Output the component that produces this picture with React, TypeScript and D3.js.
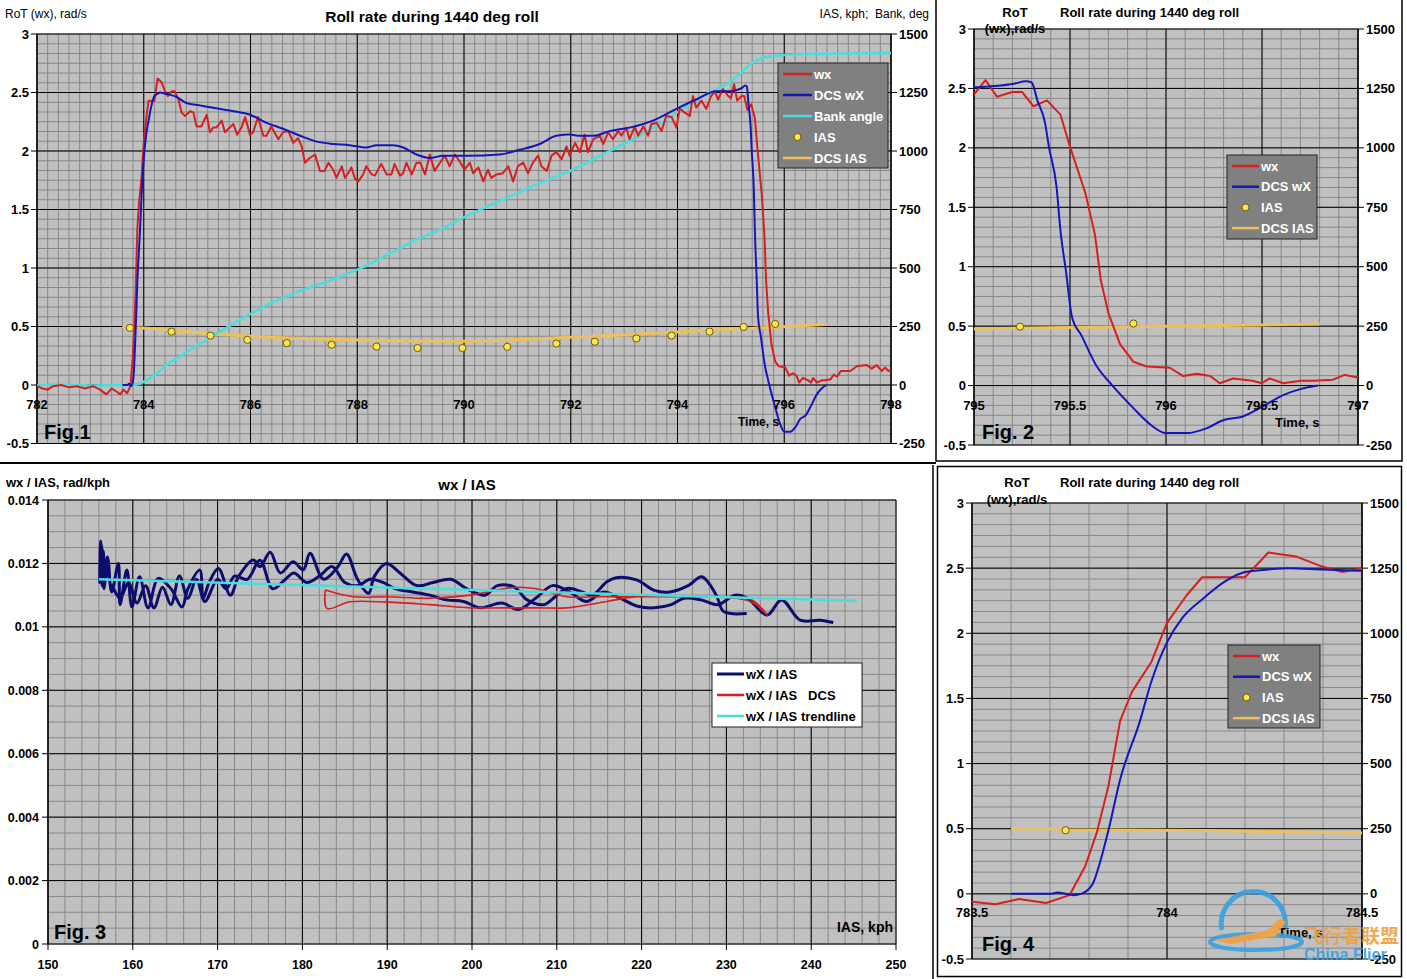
import React from 'react';
import * as d3 from 'd3';

type Pt = [number, number];

const FONT = '"Liberation Sans", Arial, sans-serif';
const RED = '#d61f1f';
const BLUE = '#1616b8';
const CYAN = '#48dede';
const GOLD = '#ecc258';
const NAVY = '#0d0d6e';
const DOT = '#ffe44a';

// measured roll rate wx, [time s, rad/s]
const wx: Pt[] = [
  [782.0, -0.01], [782.1, -0.03], [782.2, -0.04], [782.3, -0.01], [782.45, 0.0], [782.6, -0.02],
  [782.75, -0.01], [782.9, -0.03], [783.05, -0.01], [783.18, -0.04], [783.3, -0.08], [783.4, -0.03],
  [783.5, -0.06], [783.56, -0.08], [783.62, -0.04], [783.69, -0.07], [783.75, -0.01], [783.79, 0.21],
  [783.82, 0.47], [783.85, 0.83], [783.88, 1.33], [783.91, 1.55], [783.96, 1.78], [784.0, 2.08],
  [784.05, 2.29], [784.09, 2.43], [784.2, 2.43], [784.26, 2.62], [784.33, 2.59], [784.4, 2.51],
  [784.45, 2.47], [784.52, 2.51], [784.58, 2.51], [784.65, 2.44], [784.71, 2.33], [784.77, 2.3],
  [784.87, 2.34], [784.93, 2.33], [784.99, 2.21], [785.08, 2.21], [785.18, 2.31], [785.24, 2.16],
  [785.3, 2.2], [785.36, 2.2], [785.46, 2.26], [785.52, 2.16], [785.61, 2.2], [785.68, 2.23],
  [785.75, 2.14], [785.83, 2.2], [785.9, 2.29], [785.99, 2.14], [786.05, 2.16], [786.14, 2.29],
  [786.24, 2.13], [786.3, 2.13], [786.39, 2.21], [786.52, 2.1], [786.61, 2.16], [786.71, 2.17],
  [786.8, 2.07], [786.89, 2.11], [786.96, 2.04], [787.02, 1.9], [787.11, 1.94], [787.21, 1.97],
  [787.3, 1.83], [787.39, 1.83], [787.46, 1.9], [787.55, 1.84], [787.61, 1.77], [787.71, 1.87],
  [787.77, 1.77], [787.83, 1.81], [787.89, 1.86], [787.96, 1.76], [788.02, 1.74], [788.11, 1.8],
  [788.17, 1.87], [788.27, 1.8], [788.33, 1.79], [788.45, 1.89], [788.55, 1.8], [788.64, 1.8],
  [788.7, 1.89], [788.8, 1.79], [788.86, 1.81], [788.92, 1.9], [789.02, 1.8], [789.11, 1.9],
  [789.18, 1.9], [789.27, 1.8], [789.36, 1.97], [789.45, 1.83], [789.55, 1.9], [789.64, 1.96],
  [789.73, 1.87], [789.83, 1.97], [789.92, 1.91], [790.01, 1.84], [790.11, 1.9], [790.17, 1.81],
  [790.27, 1.86], [790.36, 1.74], [790.45, 1.84], [790.51, 1.77], [790.61, 1.8], [790.73, 1.81],
  [790.83, 1.87], [790.92, 1.74], [791.01, 1.87], [791.11, 1.9], [791.2, 1.81], [791.29, 1.9],
  [791.39, 1.96], [791.45, 1.87], [791.55, 1.83], [791.64, 1.96], [791.73, 1.99], [791.83, 1.93],
  [791.92, 2.04], [791.98, 1.96], [792.08, 2.07], [792.17, 1.99], [792.26, 2.14], [792.32, 1.99],
  [792.42, 2.1], [792.54, 2.13], [792.61, 2.06], [792.7, 2.16], [792.79, 2.1], [792.89, 2.17],
  [792.95, 2.13], [793.04, 2.2], [793.1, 2.1], [793.2, 2.21], [793.26, 2.13], [793.36, 2.21],
  [793.45, 2.13], [793.51, 2.23], [793.61, 2.24], [793.7, 2.17], [793.79, 2.3], [793.89, 2.29],
  [793.98, 2.2], [794.04, 2.36], [794.13, 2.33], [794.23, 2.3], [794.29, 2.47], [794.35, 2.37],
  [794.45, 2.43], [794.54, 2.36], [794.63, 2.47], [794.7, 2.51], [794.76, 2.44], [794.85, 2.53],
  [794.95, 2.47], [795.0, 2.45], [795.06, 2.57], [795.12, 2.43], [795.2, 2.47], [795.25, 2.47],
  [795.31, 2.35], [795.38, 2.4], [795.45, 2.28], [795.5, 2.01], [795.58, 1.62], [795.63, 1.27],
  [795.66, 0.89], [795.7, 0.61], [795.76, 0.35], [795.83, 0.2], [795.9, 0.16], [796.02, 0.15],
  [796.09, 0.08], [796.16, 0.1], [796.23, 0.08], [796.28, 0.02], [796.35, 0.06], [796.45, 0.04],
  [796.5, 0.02], [796.54, 0.06], [796.61, 0.02], [796.7, 0.04], [796.77, 0.04], [796.87, 0.05],
  [796.93, 0.09], [796.99, 0.07], [797.06, 0.12], [797.24, 0.12], [797.36, 0.16], [797.55, 0.17],
  [797.64, 0.14], [797.73, 0.17], [797.83, 0.12], [797.89, 0.15], [797.95, 0.12], [798.0, 0.13],
];

// DCS roll rate, [time s, rad/s]
const dcsWx: Pt[] = [
  [783.6, 0], [783.7, 0.0], [783.72, 0.01], [783.74, 0.0], [783.76, -0.01], [783.78, 0.0],
  [783.81, 0.08], [783.83, 0.26], [783.85, 0.49], [783.88, 0.88], [783.93, 1.32], [783.96, 1.63],
  [784.0, 1.93], [784.04, 2.12], [784.09, 2.26], [784.15, 2.4], [784.2, 2.47], [784.26, 2.49],
  [784.31, 2.5], [784.4, 2.49], [784.5, 2.48], [784.62, 2.46], [784.8, 2.41], [785.05, 2.39],
  [785.3, 2.37], [785.68, 2.34], [785.99, 2.31], [786.3, 2.24], [786.61, 2.19], [786.93, 2.13],
  [787.24, 2.08], [787.55, 2.06], [787.86, 2.05], [788.17, 2.03], [788.36, 2.05], [788.67, 2.05],
  [788.86, 2.03], [789.11, 1.97], [789.36, 1.94], [789.61, 1.96], [790.05, 1.96], [790.67, 1.97],
  [791.04, 2.01], [791.42, 2.06], [791.73, 2.13], [791.98, 2.14], [792.17, 2.13], [792.42, 2.13],
  [792.73, 2.17], [793.1, 2.2], [793.54, 2.26], [793.98, 2.36], [794.35, 2.44], [794.73, 2.51],
  [795.0, 2.51], [795.1, 2.52], [795.21, 2.54], [795.27, 2.56], [795.3, 2.55], [795.33, 2.4],
  [795.37, 2.21], [795.39, 2.01], [795.43, 1.67], [795.45, 1.31], [795.48, 0.95], [795.51, 0.58],
  [795.56, 0.42], [795.64, 0.16], [795.71, 0.02], [795.83, -0.19], [795.92, -0.33], [796.0, -0.4],
  [796.11, -0.4], [796.21, -0.36], [796.3, -0.29], [796.4, -0.26], [796.51, -0.17], [796.61, -0.08],
  [796.7, -0.03], [796.79, 0.0],
];

// bank angle, [time s, deg]
const bankAngle: Pt[] = [
  [782.0, 0], [782.5, 2], [783.0, -2], [783.5, 0], [783.8, 0], [783.93, 5], [784.2, 40],
  [784.43, 87], [784.8, 140], [785.3, 211], [785.8, 278], [786.3, 342], [786.9, 400], [787.55, 451],
  [788.17, 509], [788.6, 560], [789.05, 615], [789.6, 669], [790.11, 729], [790.7, 790],
  [791.36, 857], [791.98, 914], [792.6, 986], [793.23, 1057], [793.85, 1143], [794.48, 1236],
  [794.98, 1293], [795.41, 1379], [795.6, 1400], [795.98, 1410], [796.35, 1414], [798.04, 1419],
];

// DCS IAS, [time s, kph]
const dcsIas: Pt[] = [
  [783.6, 250], [783.72, 250], [783.75, 246], [784.1, 243], [784.5, 234], [785.3, 218],
  [786.3, 204], [787.55, 194], [788.5, 190], [790.05, 187], [791.0, 193], [792.0, 204],
  [793.0, 214], [793.85, 225], [794.6, 234], [795.0, 238], [795.4, 243], [795.9, 248],
  [796.5, 255], [796.8, 259],
];

// measured IAS samples, [time s, kph]
const iasDots: Pt[] = [
  [783.74, 244], [784.52, 228], [785.25, 211], [785.94, 193], [786.68, 179], [787.52, 172],
  [788.36, 164], [789.13, 158], [789.97, 158], [790.81, 163], [791.73, 177], [792.45, 185],
  [793.23, 199], [793.89, 211], [794.6, 228], [795.24, 248], [795.83, 261],
];

// Fig.3: wx / IAS against IAS, [kph, rad/kph]
const ratioMeasured: Pt[] = [
  [232.4, 0.01042], [230.5, 0.01042], [229.6, 0.0105], [228.8, 0.011], [227.1, 0.01158],
  [225.5, 0.0113], [223.3, 0.0111], [221.5, 0.01115], [219.4, 0.01148], [217.0, 0.01155],
  [215.9, 0.01142], [214.2, 0.011], [213.0, 0.0111], [211.2, 0.01121], [209.8, 0.01095],
  [208.5, 0.0107], [206.5, 0.01085], [205.0, 0.01125], [203.0, 0.0113], [201.5, 0.011],
  [199.4, 0.0112], [197.5, 0.0115], [195.4, 0.0114], [193.5, 0.0113], [191.5, 0.0117],
  [189.9, 0.012], [188.5, 0.0116], [187.8, 0.01106], [186.5, 0.0115], [185.2, 0.0123],
  [184.2, 0.0119], [182.5, 0.0115], [180.9, 0.01232], [180.1, 0.0118], [178.9, 0.01205],
  [177.4, 0.0117], [176.2, 0.01235], [175.0, 0.0119], [174.2, 0.01211], [172.5, 0.0116],
  [171.5, 0.011], [170.1, 0.01184], [169.0, 0.0114], [168.3, 0.0109], [167.9, 0.01179],
  [166.5, 0.0112], [165.8, 0.01063], [164.5, 0.0112], [163.0, 0.01153], [161.8, 0.0106],
  [160.8, 0.01158], [159.9, 0.01063], [159.3, 0.01179], [158.5, 0.0107], [158.3, 0.012],
  [157.5, 0.0111], [157.0, 0.0122], [156.6, 0.0112], [156.3, 0.0126], [156.1, 0.0114],
  [156.2, 0.0127], [156.4, 0.0113], [156.5, 0.0124], [156.8, 0.0115], [157.1, 0.0121],
  [157.4, 0.0113], [157.5, 0.0113], [158.5, 0.0109], [159.5, 0.0114], [160.5, 0.01075],
  [161.5, 0.0113], [162.5, 0.0106], [163.5, 0.01125], [164.5, 0.0107], [165.5, 0.0116],
  [166.5, 0.0109], [167.5, 0.0115], [168.5, 0.0108], [170.0, 0.0115], [171.0, 0.0112],
  [172.0, 0.0116], [173.5, 0.0115], [175.0, 0.0121], [176.5, 0.0112], [178.0, 0.0115],
  [179.0, 0.0117], [180.5, 0.0114], [182.0, 0.0116], [183.5, 0.0119], [185.0, 0.0114],
  [186.5, 0.0113], [188.0, 0.0115], [189.5, 0.0114], [191.0, 0.0112], [193.0, 0.0111],
  [195.0, 0.011], [197.0, 0.01085], [199.0, 0.0108], [201.0, 0.0106], [203.5, 0.01075],
  [205.5, 0.01055], [207.5, 0.0109], [209.5, 0.0113], [211.5, 0.0111], [213.5, 0.0108],
  [215.5, 0.0111], [217.5, 0.0109], [219.5, 0.01065], [221.5, 0.0106], [223.5, 0.0107],
  [225.0, 0.0109], [227.0, 0.01085], [229.0, 0.0107], [231.0, 0.011], [232.5, 0.0109],
  [234.8, 0.01037], [236.5, 0.01085], [238.7, 0.01021], [241.0, 0.01021], [242.6, 0.01014],
];

const ratioDcs: Pt[] = [
  [182.7, 0.01116], [186.0, 0.01095], [190.0, 0.01095], [195.0, 0.0109], [199.8, 0.011],
  [203.7, 0.0112], [205.6, 0.01125], [207.6, 0.0112], [211.2, 0.01095], [215.0, 0.01095],
  [219.4, 0.01095], [223.3, 0.01095], [227.1, 0.01095], [231.2, 0.0109], [233.2, 0.01075],
  [234.8, 0.01037], [233.0, 0.01085], [229.6, 0.01095], [225.0, 0.01095], [219.4, 0.01095],
  [215.9, 0.0108], [211.2, 0.0106], [207.6, 0.0106], [203.7, 0.0106], [199.8, 0.0106],
  [195.0, 0.0107], [190.0, 0.01078], [185.6, 0.01079], [182.9, 0.01058], [182.7, 0.01116],
];

const ratioTrend: Pt[] = [[156.0, 0.0115], [245.4, 0.01082]];

const leftTicks = [-0.5, 0, 0.5, 1, 1.5, 2, 2.5, 3];
const rightTicks = [-250, 0, 250, 500, 750, 1000, 1250, 1500];
const ratioTicks = [0, 0.002, 0.004, 0.006, 0.008, 0.01, 0.012, 0.014];
const iasTicks = [150, 160, 170, 180, 190, 200, 210, 220, 230, 240, 250];

type Box = { left: number; right: number; top: number; bottom: number };

const steps = (d0: number, d1: number, step: number) =>
  d3.range(Math.round((d1 - d0) / step) + 1).map((i) => d0 + i * step);

const fmt = (v: number) => String(+v.toFixed(4));

type LegendRow = { label: string; color: string; kind: 'line' | 'dot' };

const rollLegend: LegendRow[] = [
  { label: 'wx', color: RED, kind: 'line' },
  { label: 'DCS wX', color: BLUE, kind: 'line' },
  { label: 'Bank angle', color: CYAN, kind: 'line' },
  { label: 'IAS', color: DOT, kind: 'dot' },
  { label: 'DCS IAS', color: GOLD, kind: 'line' },
];

function Legend({
  x, y, w, h, rows, rowGap, fill, text, sample,
}: {
  x: number; y: number; w: number; h: number; rows: LegendRow[]; rowGap: number;
  fill: string; text: string; sample: number;
}) {
  return (
    <g>
      <rect x={x} y={y} width={w} height={h} fill={fill} stroke="#222" strokeWidth={1} />
      {rows.map((r, i) => {
        const cy = y + 11 + i * rowGap;
        return (
          <g key={r.label}>
            {r.kind === 'line' ? (
              <line x1={x + 5} x2={x + 5 + sample} y1={cy} y2={cy} stroke={r.color}
                strokeWidth={r.color === NAVY ? 3 : 2.5} />
            ) : (
              <circle cx={x + 5 + sample / 2} cy={cy} r={3.5} fill={DOT} stroke="#6b5a10" strokeWidth={1} />
            )}
            <text x={x + 7 + sample} y={cy + 4.5} fontSize={13} fontWeight="bold" fill={text}
              style={{ whiteSpace: 'pre' }}>
              {r.label}
            </text>
          </g>
        );
      })}
    </g>
  );
}

function RollPanel({
  id, box, xDomain, xMajor, xMinor, bank, labelY, lw,
}: {
  id: string; box: Box; xDomain: [number, number]; xMajor: number; xMinor: number;
  bank: boolean; labelY: number; lw: number;
}) {
  const x = d3.scaleLinear().domain(xDomain).range([box.left, box.right]);
  const yL = d3.scaleLinear().domain([-0.5, 3]).range([box.bottom, box.top]);
  const yR = d3.scaleLinear().domain([-250, 1500]).range([box.bottom, box.top]);
  const lineL = d3.line<Pt>().x((d) => x(d[0])).y((d) => yL(d[1]));
  const smoothL = d3.line<Pt>().x((d) => x(d[0])).y((d) => yL(d[1])).curve(d3.curveMonotoneX);
  const lineR = d3.line<Pt>().x((d) => x(d[0])).y((d) => yR(d[1]));
  const xMin = steps(xDomain[0], xDomain[1], xMinor);
  const xMaj = steps(xDomain[0], xDomain[1], xMajor);
  const yMin = steps(-0.5, 3, 0.5 / 6);
  const dots = iasDots.filter((d) => d[0] >= xDomain[0] && d[0] <= xDomain[1]);
  return (
    <g>
      <defs>
        <clipPath id={id}>
          <rect x={box.left} y={box.top} width={box.right - box.left} height={box.bottom - box.top} />
        </clipPath>
      </defs>
      <rect x={box.left} y={box.top} width={box.right - box.left} height={box.bottom - box.top} fill="#c0c0c0" />
      {xMin.map((v) => (
        <line key={'xm' + v} x1={x(v)} x2={x(v)} y1={box.top} y2={box.bottom} stroke="#888" strokeWidth={1} />
      ))}
      {yMin.map((v) => (
        <line key={'ym' + v} x1={box.left} x2={box.right} y1={yL(v)} y2={yL(v)} stroke="#888" strokeWidth={1} />
      ))}
      {xMaj.map((v) => (
        <line key={'xM' + v} x1={x(v)} x2={x(v)} y1={box.top} y2={box.bottom} stroke="#000" strokeWidth={1} />
      ))}
      {leftTicks.map((v) => (
        <line key={'yM' + v} x1={box.left - 6} x2={box.right + 6} y1={yL(v)} y2={yL(v)} stroke="#000" strokeWidth={1} />
      ))}
      <line x1={box.left} x2={box.left} y1={box.top} y2={box.bottom} stroke="#000" strokeWidth={1.2} />
      <line x1={box.right} x2={box.right} y1={box.top} y2={box.bottom} stroke="#000" strokeWidth={1.2} />
      <g clipPath={`url(#${id})`} fill="none" strokeLinejoin="round">
        <path d={lineR(dcsIas) ?? ''} stroke={GOLD} strokeWidth={lw + 1} />
        {bank && <path d={lineR(bankAngle) ?? ''} stroke={CYAN} strokeWidth={lw + 0.5} />}
        <path d={lineL(wx) ?? ''} stroke={RED} strokeWidth={lw} />
        <path d={smoothL(dcsWx) ?? ''} stroke={BLUE} strokeWidth={lw} />
      </g>
      {dots.map((d) => (
        <circle key={'d' + d[0]} cx={x(d[0])} cy={yR(d[1])} r={3.6} fill={DOT} stroke="#6b5a10" strokeWidth={1} />
      ))}
      <g fontSize={13} fontWeight="bold" fill="#000">
        {leftTicks.map((v) => (
          <text key={'lt' + v} x={box.left - 8} y={yL(v) + 4.5} textAnchor="end">{fmt(v)}</text>
        ))}
        {rightTicks.map((v) => (
          <text key={'rt' + v} x={box.right + 8} y={yR(v) + 4.5}>{fmt(v)}</text>
        ))}
        {xMaj.map((v) => (
          <text key={'xt' + v} x={x(v)} y={labelY} textAnchor="middle">{fmt(v)}</text>
        ))}
      </g>
    </g>
  );
}

function RatioPanel() {
  const box: Box = { left: 48, right: 896, top: 500, bottom: 944 };
  const x = d3.scaleLinear().domain([150, 250]).range([box.left, box.right]);
  const y = d3.scaleLinear().domain([0, 0.014]).range([box.bottom, box.top]);
  const line = d3.line<Pt>().x((d) => x(d[0])).y((d) => y(d[1]));
  const curvy = d3.line<Pt>().x((d) => x(d[0])).y((d) => y(d[1])).curve(d3.curveCatmullRom.alpha(0.5));
  const xMin = steps(150, 250, 2);
  const yMin = steps(0, 0.014, 0.0005);
  return (
    <g>
      <rect x={box.left} y={box.top} width={box.right - box.left} height={box.bottom - box.top} fill="#c0c0c0" />
      {xMin.map((v) => (
        <line key={'xm' + v} x1={x(v)} x2={x(v)} y1={box.top} y2={box.bottom} stroke="#888" strokeWidth={1} />
      ))}
      {yMin.map((v) => (
        <line key={'ym' + v} x1={box.left} x2={box.right} y1={y(v)} y2={y(v)} stroke="#888" strokeWidth={1} />
      ))}
      {iasTicks.map((v) => (
        <line key={'xM' + v} x1={x(v)} x2={x(v)} y1={box.top} y2={box.bottom + 6} stroke="#000" strokeWidth={1} />
      ))}
      {ratioTicks.map((v) => (
        <line key={'yM' + v} x1={box.left - 6} x2={box.right} y1={y(v)} y2={y(v)} stroke="#000" strokeWidth={1} />
      ))}
      <line x1={box.left} x2={box.left} y1={box.top} y2={box.bottom} stroke="#000" strokeWidth={1.2} />
      <g fill="none" strokeLinejoin="round">
        <path d={curvy(ratioMeasured) ?? ''} stroke={NAVY} strokeWidth={3} />
        <path d={curvy(ratioDcs) ?? ''} stroke={RED} strokeWidth={1.6} />
        <path d={line(ratioTrend) ?? ''} stroke={CYAN} strokeWidth={2.5} />
      </g>
      <g fontSize={12.5} fontWeight="bold" fill="#000">
        {ratioTicks.map((v) => (
          <text key={'lt' + v} x={box.left - 9} y={y(v) + 4.5} textAnchor="end">{fmt(v)}</text>
        ))}
        {iasTicks.map((v) => (
          <text key={'xt' + v} x={x(v)} y={969} textAnchor="middle">{v}</text>
        ))}
      </g>
    </g>
  );
}

export default function App() {
  const small = rollLegend.filter((r) => r.label !== 'Bank angle');
  return (
    <div style={{ position: 'absolute', left: 0, top: 0 }}>
      <svg width={1407} height={979} style={{ display: 'block', background: '#fff', fontFamily: FONT }}>
        {/* Fig. 1 */}
        <RollPanel id="c1" box={{ left: 37, right: 891, top: 34, bottom: 443.5 }} xDomain={[782, 798]}
          xMajor={2} xMinor={0.2} bank labelY={409} lw={2} />
        <text x={5} y={18} fontSize={12}>RoT (wx), rad/s</text>
        <text x={432} y={22} fontSize={15.5} fontWeight="bold" textAnchor="middle">Roll rate during 1440 deg roll</text>
        <text x={929} y={18} fontSize={12} textAnchor="end" style={{ whiteSpace: 'pre' }}>IAS, kph;  Bank, deg</text>
        <text x={738} y={426} fontSize={12} fontWeight="bold">Time, s</text>
        <text x={44} y={439} fontSize={20} fontWeight="bold">Fig.1</text>
        <Legend x={778} y={63} w={110} h={105} rows={rollLegend} rowGap={21} fill="#808080" text="#fff" sample={29} />

        {/* Fig. 2 */}
        <RollPanel id="c2" box={{ left: 974, right: 1358, top: 29, bottom: 445 }} xDomain={[795, 797]}
          xMajor={0.5} xMinor={0.1} bank={false} labelY={410} lw={2} />
        <text x={1015} y={17} fontSize={13} fontWeight="bold" textAnchor="middle">RoT</text>
        <text x={1015} y={33} fontSize={13} fontWeight="bold" textAnchor="middle">(wx),rad/s</text>
        <text x={1060} y={17} fontSize={13} fontWeight="bold">Roll rate during 1440 deg roll</text>
        <text x={1275} y={427} fontSize={13} fontWeight="bold">Time, s</text>
        <text x={982} y={439} fontSize={20} fontWeight="bold">Fig. 2</text>
        <Legend x={1227} y={155} w={90} h={84} rows={small} rowGap={20.7} fill="#808080" text="#fff" sample={27} />

        {/* Fig. 3 */}
        <RatioPanel />
        <text x={6} y={487} fontSize={13} fontWeight="bold">wx / IAS, rad/kph</text>
        <text x={467} y={490} fontSize={15} fontWeight="bold" textAnchor="middle">wx / IAS</text>
        <text x={893} y={932} fontSize={14} fontWeight="bold" textAnchor="end">IAS, kph</text>
        <text x={54} y={939} fontSize={20} fontWeight="bold">Fig. 3</text>
        <Legend x={712} y={663} w={150} h={64} rows={[
          { label: 'wX / IAS', color: NAVY, kind: 'line' },
          { label: 'wX / IAS   DCS', color: RED, kind: 'line' },
          { label: 'wX / IAS trendline', color: CYAN, kind: 'line' },
        ]} rowGap={21} fill="#fff" text="#000" sample={27} />

        {/* Fig. 4 */}
        <RollPanel id="c4" box={{ left: 972, right: 1362, top: 503, bottom: 959 }} xDomain={[783.5, 784.5]}
          xMajor={0.5} xMinor={0.1} bank={false} labelY={917} lw={2} />
        <text x={1017} y={487} fontSize={13} fontWeight="bold" textAnchor="middle">RoT</text>
        <text x={1017} y={504} fontSize={13} fontWeight="bold" textAnchor="middle">(wx),rad/s</text>
        <text x={1060} y={487} fontSize={13} fontWeight="bold">Roll rate during 1440 deg roll</text>
        <text x={1278} y={937} fontSize={13} fontWeight="bold">Time, s</text>
        <text x={982} y={951} fontSize={20} fontWeight="bold">Fig. 4</text>
        <Legend x={1228} y={645} w={92} h={83} rows={small} rowGap={20.7} fill="#808080" text="#fff" sample={27} />

        {/* frames */}
        <line x1={0} x2={936} y1={463} y2={463} stroke="#000" strokeWidth={2} />
        <rect x={936} y={-1} width={466} height={462} fill="none" stroke="#000" strokeWidth={1.5} />
        <line x1={933} x2={933} y1={465} y2={979} stroke="#000" strokeWidth={1.5} />
        <rect x={937.5} y={466.5} width={464} height={510} fill="none" stroke="#000" strokeWidth={1.5} />

        {/* watermark */}
        <g opacity={0.9}>
          <path d="M1222,930 A32,32 0 1,1 1285,928" fill="none" stroke="#3aa0e0" strokeWidth={5} />
          <ellipse cx={1256} cy={942} rx={46} ry={8} fill="none" stroke="#3aa0e0" strokeWidth={4} />
          <path d="M1215,940 L1268,930 L1280,918 L1286,922 L1276,936 L1230,944 Z" fill="#f0a040" />
          <text x={1304} y={943} fontSize={19} fontWeight="bold" fill="#f0a040"
            fontFamily='"Noto Sans CJK SC", sans-serif'>飞行者联盟</text>
          <text x={1304} y={960} fontSize={16} fontWeight="bold" fill="#3aa0e0">China Flier</text>
        </g>
      </svg>
    </div>
  );
}
